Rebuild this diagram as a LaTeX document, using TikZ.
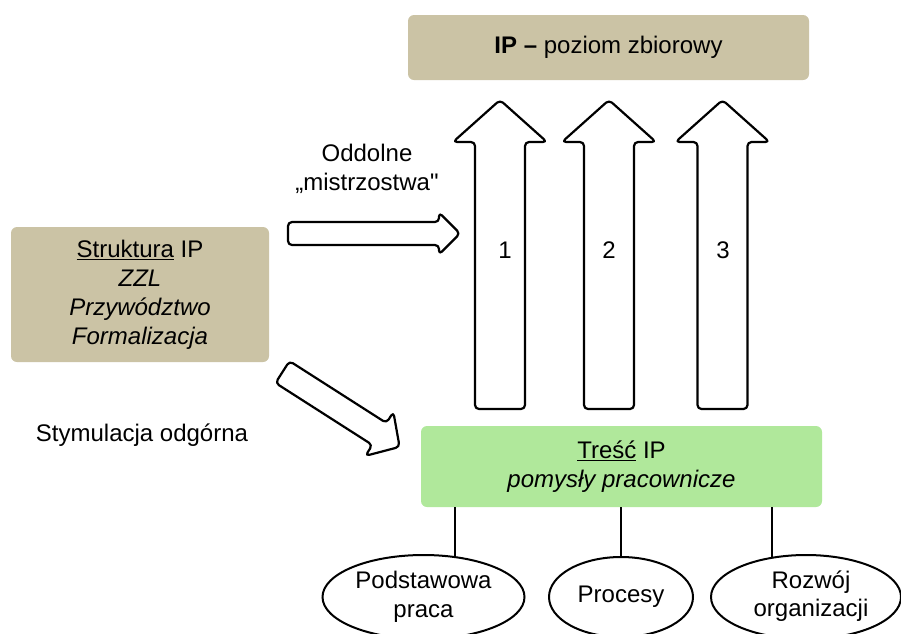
\documentclass[tikz,border=0pt]{standalone}
\usepackage{fontspec}
\setmainfont{Liberation Sans}
\newfontfamily\rawfont{Liberation Sans}[Ligatures=TeXOff]
\usetikzlibrary{shapes.geometric}
\definecolor{khaki}{RGB}{203,195,165}
\definecolor{leaf}{RGB}{176,232,155}
% wide outlined arrow: tail x, tail y, angle, length, shaft half width, head half width, head length
\newcommand\blockarrow[7]{%
  \begin{scope}[shift={(#1,#2)}, rotate=#3]
    \draw[fatarrow] (0,-#5) -- (#4-#7,-#5) -- (#4-#7,-#6) -- (#4,0)
      -- (#4-#7,#6) -- (#4-#7,#5) -- (0,#5) -- cycle;
  \end{scope}}
\begin{document}
\begin{tikzpicture}[x=1pt,y=-1pt,
  every node/.style={font=\fontsize{24}{29}\selectfont, align=center, inner sep=0pt},
  panel/.style={rounded corners=6pt},
  oval/.style={ellipse, draw, line width=2pt, fill=white},
  fatarrow/.style={draw, fill=white, line width=2.2pt, rounded corners=4pt, line join=round},
  link/.style={line width=2pt}]
\useasboundingbox (0,0) rectangle (901,633);

% boxes
\node[panel, fill=khaki, minimum width=401pt, minimum height=65pt] (top) at (608.5,47.5)
  {\textbf{IP –} poziom zbiorowy};
\node[panel, fill=khaki, minimum width=258pt, minimum height=135pt] (struct) at (140,294.5)
  {\underline{Struktura} IP\\ \textit{ZZL}\\ \textit{Przywództwo}\\ \textit{Formalizacja}};
\node[panel, fill=leaf, minimum width=401pt, minimum height=81pt] (content) at (621.5,466.5)
  {\underline{Treść} IP\\ \textit{pomysły pracownicze}};

% block arrows
\blockarrow{500}{409}{90}{309}{25}{47}{42}
\blockarrow{609}{409}{90}{309}{25}{47}{42}
\blockarrow{722.5}{409}{90}{309}{25}{47}{42}
\blockarrow{288}{233.5}{0}{172}{11.5}{21}{21}
\blockarrow{282.5}{372}{-32.6}{139}{13}{26}{24}

\node (n1) at (505,250) {1};
\node (n2) at (609,250) {2};
\node (n3) at (723,250) {3};

\node (bottomup) at (367,168.5) {Oddolne\\{\rawfont„mistrzostwa"}};
\node (topdown) at (142,435) {Stymulacja odgórna};

% areas
\node[oval, minimum width=202pt, minimum height=84pt] (work) at (423.5,597) {Podstawowa\\praca};
\node[oval, minimum width=144pt, minimum height=80pt] (proc) at (621,597) {Procesy};
\node[oval, minimum width=190pt, minimum height=84pt] (dev) at (806,597)
  {\hspace*{10pt}\raisebox{4pt}{\begin{tabular}{@{}c@{}}Rozwój\\[-1pt]organizacji\end{tabular}}};

\draw[link] (work.52) -- (work.52 |- content.south);
\draw[link] (proc.north) -- (proc.north |- content.south);
\draw[link] (dev.130) -- (dev.130 |- content.south);
\end{tikzpicture}
\end{document}
